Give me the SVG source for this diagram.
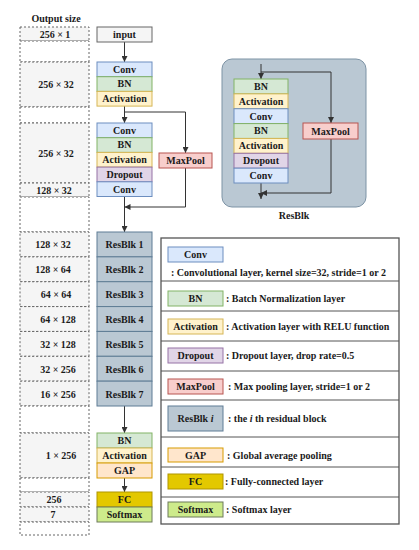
<svg xmlns="http://www.w3.org/2000/svg" width="419" height="550" viewBox="0 0 419 550">
<style>
text{font-family:"Liberation Serif","Times New Roman",serif;font-weight:bold;font-size:10px;fill:#1a1a1a}
.c{text-anchor:middle}
.os{fill:#f5f5f5;stroke:#666;stroke-width:1;stroke-dasharray:2 2}
.oe{fill:#fff;stroke:#666;stroke-width:1;stroke-dasharray:2 2}
.inp{fill:#f5f5f5;stroke:#666}
.conv{fill:#dae8fc;stroke:#6c8ebf}
.bn{fill:#d5e8d4;stroke:#82b366}
.act{fill:#fff2cc;stroke:#d6b656}
.drop{fill:#e1d5e7;stroke:#9673a6}
.mp{fill:#f8cecc;stroke:#b85450}
.gap{fill:#ffe6cc;stroke:#d79b00}
.fc{fill:#e3c800;stroke:#b09500}
.sm{fill:#cdeb8b;stroke:#6d7a5a}
.rb{fill:#bac8d3;stroke:#5f7d95}
.ln{fill:none;stroke:#333;stroke-width:1}
.lg{fill:#fff;stroke:#555;stroke-width:1.3}
.dv{stroke:#555;stroke-width:1}
</style>
<defs>
<marker id="ah" viewBox="0 0 10 10" refX="10" refY="5" markerWidth="6" markerHeight="6" orient="auto" markerUnits="userSpaceOnUse"><path d="M0,0 L10,5 L0,10 z" fill="#333"/></marker>
</defs>

<text class="c" x="56" y="22">Output size</text>
<g id="outsize">
<rect class="os" x="20" y="27" width="69" height="14"/><text class="c" x="55" y="37.5">256 × 1</text>
<rect class="oe" x="20" y="41" width="69" height="21"/>
<rect class="os" x="20" y="62" width="69" height="45"/><text class="c" x="56" y="88">256 × 32</text>
<rect class="oe" x="20" y="107" width="69" height="16"/>
<rect class="os" x="20" y="123" width="69" height="60"/><text class="c" x="56" y="157">256 × 32</text>
<rect class="os" x="20" y="183" width="69" height="14"/><text class="c" x="54" y="193.5">128 × 32</text>
<rect class="oe" x="20" y="197" width="69" height="35"/>
<rect class="os" x="20" y="232" width="69" height="24.86"/><text class="c" x="53" y="248">128 × 32</text>
<rect class="os" x="20" y="256.86" width="69" height="24.86"/><text class="c" x="53" y="273">128 × 64</text>
<rect class="os" x="20" y="281.72" width="69" height="24.86"/><text class="c" x="56" y="298">64 × 64</text>
<rect class="os" x="20" y="306.58" width="69" height="24.86"/><text class="c" x="58" y="323">64 × 128</text>
<rect class="os" x="20" y="331.44" width="69" height="24.86"/><text class="c" x="58" y="348">32 × 128</text>
<rect class="os" x="20" y="356.3" width="69" height="24.86"/><text class="c" x="58" y="372.5">32 × 256</text>
<rect class="os" x="20" y="381.16" width="69" height="24.84"/><text class="c" x="58" y="397.5">16 × 256</text>
<rect class="oe" x="20" y="406" width="69" height="27"/>
<rect class="os" x="20" y="433" width="69" height="45"/><text class="c" x="61" y="459">1 × 256</text>
<rect class="oe" x="20" y="478" width="69" height="14"/>
<rect class="os" x="20" y="492" width="69" height="15"/><text class="c" x="54" y="503">256</text>
<rect class="os" x="20" y="507" width="69" height="15"/><text class="c" x="53" y="518">7</text>
<rect class="oe" x="20" y="522" width="69" height="13"/>
</g>

<g id="connectors">
<line class="ln" x1="124.5" y1="42" x2="124.5" y2="62" marker-end="url(#ah)"/>
<line class="ln" x1="124.5" y1="106" x2="124.5" y2="123" marker-end="url(#ah)"/>
<polyline class="ln" points="124.5,112 185.5,112 185.5,153" marker-end="url(#ah)"/>
<polyline class="ln" points="185.5,168 185.5,207 124.5,207" marker-end="url(#ah)"/>
<line class="ln" x1="124.5" y1="196.5" x2="124.5" y2="232" marker-end="url(#ah)"/>
<line class="ln" x1="124.5" y1="406" x2="124.5" y2="433" marker-end="url(#ah)"/>
<line class="ln" x1="124.5" y1="478" x2="124.5" y2="492" marker-end="url(#ah)"/>
</g>

<g id="input"><rect class="inp" x="97" y="27" width="55" height="15"/><text class="c" x="124.5" y="38">input</text></g>
<g id="stem1">
<rect class="conv" x="97" y="62" width="55" height="14.7"/><text class="c" x="124.5" y="72.7">Conv</text>
<rect class="bn" x="97" y="76.7" width="55" height="14.7"/><text class="c" x="124.5" y="87.4">BN</text>
<rect class="act" x="97" y="91.4" width="55" height="14.7"/><text class="c" x="124.5" y="102.1">Activation</text>
</g>
<g id="stem2">
<rect class="conv" x="97" y="123" width="55" height="14.7"/><text class="c" x="124.5" y="133.7">Conv</text>
<rect class="bn" x="97" y="137.7" width="55" height="14.7"/><text class="c" x="124.5" y="148.4">BN</text>
<rect class="act" x="97" y="152.4" width="55" height="14.7"/><text class="c" x="124.5" y="163.1">Activation</text>
<rect class="drop" x="97" y="167.1" width="55" height="14.7"/><text class="c" x="124.5" y="177.8">Dropout</text>
<rect class="conv" x="97" y="181.8" width="55" height="14.7"/><text class="c" x="124.5" y="192.5">Conv</text>
</g>
<g id="maxpool1"><rect class="mp" x="159" y="153" width="53" height="15"/><text class="c" x="185.5" y="164">MaxPool</text></g>

<g id="resblks">
<rect class="rb" x="97" y="232" width="55" height="24.86"/><text class="c" x="124.5" y="248">ResBlk 1</text>
<rect class="rb" x="97" y="256.86" width="55" height="24.86"/><text class="c" x="124.5" y="273">ResBlk 2</text>
<rect class="rb" x="97" y="281.72" width="55" height="24.86"/><text class="c" x="124.5" y="298">ResBlk 3</text>
<rect class="rb" x="97" y="306.58" width="55" height="24.86"/><text class="c" x="124.5" y="323">ResBlk 4</text>
<rect class="rb" x="97" y="331.44" width="55" height="24.86"/><text class="c" x="124.5" y="348">ResBlk 5</text>
<rect class="rb" x="97" y="356.3" width="55" height="24.86"/><text class="c" x="124.5" y="372.5">ResBlk 6</text>
<rect class="rb" x="97" y="381.16" width="55" height="24.84"/><text class="c" x="124.5" y="397.5">ResBlk 7</text>
</g>

<g id="head">
<rect class="bn" x="97" y="433" width="55" height="15"/><text class="c" x="124.5" y="444">BN</text>
<rect class="act" x="97" y="448" width="55" height="15"/><text class="c" x="124.5" y="459">Activation</text>
<rect class="gap" x="97" y="463" width="55" height="15"/><text class="c" x="124.5" y="474">GAP</text>
</g>
<g id="out">
<rect class="fc" x="97" y="492" width="55" height="15"/><text class="c" x="124.5" y="503">FC</text>
<rect class="sm" x="97" y="507" width="55" height="15"/><text class="c" x="124.5" y="518">Softmax</text>
</g>

<g id="resblk-detail">
<rect x="222" y="59" width="144" height="148" rx="10" fill="#bac8d3" stroke="#7d93a5" stroke-width="1"/>
<line class="ln" x1="261" y1="64" x2="261" y2="79" marker-end="url(#ah)"/>
<polyline class="ln" points="261,72 331,72 331,123" marker-end="url(#ah)"/>
<polyline class="ln" points="331,139 331,193 261,193" marker-end="url(#ah)"/>
<line class="ln" x1="261" y1="183" x2="261" y2="199" marker-end="url(#ah)"/>
<rect class="bn" x="234" y="79" width="54" height="14.86"/><text class="c" x="261" y="89.8">BN</text>
<rect class="act" x="234" y="93.86" width="54" height="14.86"/><text class="c" x="261" y="104.6">Activation</text>
<rect class="conv" x="234" y="108.72" width="54" height="14.86"/><text class="c" x="261" y="119.5">Conv</text>
<rect class="bn" x="234" y="123.58" width="54" height="14.86"/><text class="c" x="261" y="134.4">BN</text>
<rect class="act" x="234" y="138.44" width="54" height="14.86"/><text class="c" x="261" y="149.2">Activation</text>
<rect class="drop" x="234" y="153.3" width="54" height="14.86"/><text class="c" x="261" y="164.1">Dropout</text>
<rect class="conv" x="234" y="168.16" width="54" height="14.84"/><text class="c" x="261" y="179">Conv</text>
<rect class="mp" x="303" y="123" width="55" height="16"/><text class="c" x="330.5" y="134.5">MaxPool</text>
<text class="c" x="294" y="219">ResBlk</text>
</g>

<g id="legend">
<rect class="lg" x="161" y="238" width="238" height="286"/>
<line class="dv" x1="161" y1="281" x2="399" y2="281"/>
<line class="dv" x1="161" y1="311" x2="399" y2="311"/>
<line class="dv" x1="161" y1="341" x2="399" y2="341"/>
<line class="dv" x1="161" y1="371" x2="399" y2="371"/>
<line class="dv" x1="161" y1="400" x2="399" y2="400"/>
<line class="dv" x1="161" y1="437" x2="399" y2="437"/>
<line class="dv" x1="161" y1="467" x2="399" y2="467"/>
<line class="dv" x1="161" y1="497" x2="399" y2="497"/>
<rect class="conv" x="168" y="247" width="55" height="15"/><text class="c" x="195.5" y="258">Conv</text>
<text x="171" y="276">: Convolutional layer, kernel size=32, stride=1 or 2</text>
<rect class="bn" x="168" y="291" width="55" height="15"/><text class="c" x="195.5" y="302">BN</text>
<text x="226" y="301.5">: Batch Normalization layer</text>
<rect class="act" x="168" y="319" width="55" height="15"/><text class="c" x="195.5" y="330">Activation</text>
<text x="226" y="330">: Activation layer with RELU function</text>
<rect class="drop" x="168" y="348" width="55" height="15"/><text class="c" x="195.5" y="359">Dropout</text>
<text x="226" y="359">: Dropout layer, drop rate=0.5</text>
<rect class="mp" x="168" y="379" width="55" height="15"/><text class="c" x="195.5" y="390">MaxPool</text>
<text x="228" y="390">: Max pooling layer, stride=1 or 2</text>
<rect class="rb" x="168" y="406" width="55" height="25"/><text class="c" x="195.5" y="422">ResBlk <tspan font-style="italic">i</tspan></text>
<text x="228" y="422">: the <tspan font-style="italic">i</tspan> th residual block</text>
<rect class="gap" x="168" y="448" width="55" height="14"/><text class="c" x="195.5" y="459">GAP</text>
<text x="227" y="459">: Global average pooling</text>
<rect class="fc" x="168" y="474" width="55" height="15"/><text class="c" x="195.5" y="485">FC</text>
<text x="225" y="485">: Fully-connected layer</text>
<rect class="sm" x="168" y="502" width="55" height="15"/><text class="c" x="195.5" y="513">Softmax</text>
<text x="226" y="513">: Softmax layer</text>
</g>
</svg>
